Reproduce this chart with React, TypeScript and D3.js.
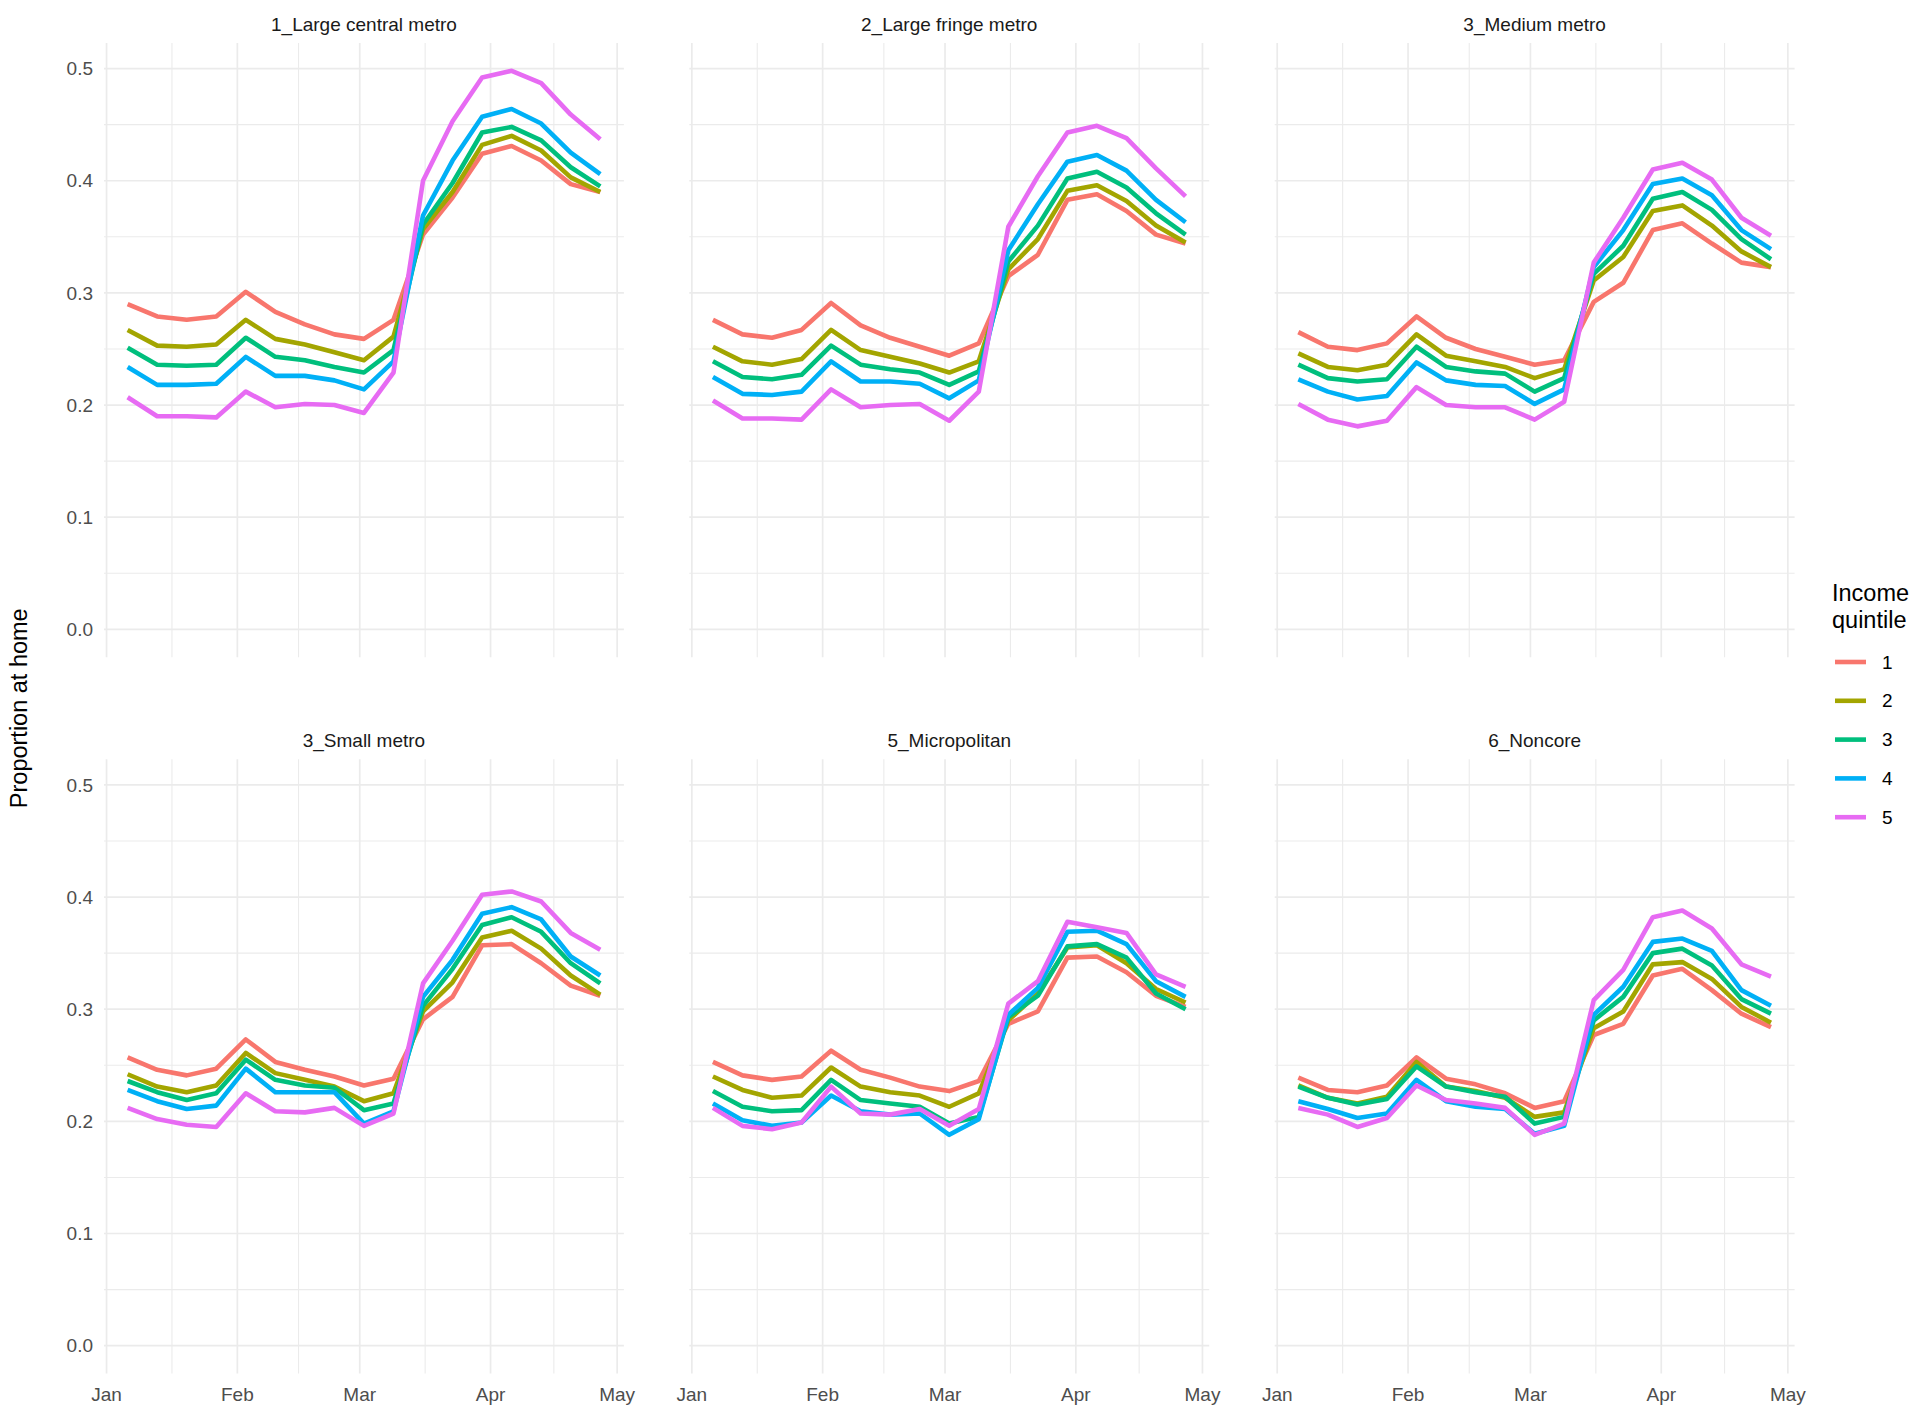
import React from "react";
import * as d3 from "d3";

// ---- data ----
const weeks = [
  "2020-01-06", "2020-01-13", "2020-01-20", "2020-01-27",
  "2020-02-03", "2020-02-10", "2020-02-17", "2020-02-24",
  "2020-03-02", "2020-03-09", "2020-03-16", "2020-03-23",
  "2020-03-30", "2020-04-06", "2020-04-13", "2020-04-20", "2020-04-27",
];

const quintiles = ["1", "2", "3", "4", "5"];
const quintileColors = ["#F8766D", "#A3A500", "#00BF7D", "#00B0F6", "#E76BF3"];

const panelTitles = [
  "1_Large central metro",
  "2_Large fringe metro",
  "3_Medium metro",
  "3_Small metro",
  "5_Micropolitan",
  "6_Noncore",
];

const largeCentralMetro = [
  [0.290, 0.279, 0.276, 0.279, 0.301, 0.283, 0.272, 0.263, 0.259, 0.276, 0.352, 0.385, 0.424, 0.431, 0.418, 0.397, 0.390],
  [0.267, 0.253, 0.252, 0.254, 0.276, 0.259, 0.254, 0.247, 0.240, 0.261, 0.357, 0.390, 0.432, 0.440, 0.427, 0.403, 0.390],
  [0.251, 0.236, 0.235, 0.236, 0.260, 0.243, 0.240, 0.234, 0.229, 0.249, 0.361, 0.398, 0.443, 0.448, 0.436, 0.412, 0.395],
  [0.234, 0.218, 0.218, 0.219, 0.243, 0.226, 0.226, 0.222, 0.214, 0.239, 0.369, 0.418, 0.457, 0.464, 0.451, 0.425, 0.406],
  [0.207, 0.190, 0.190, 0.189, 0.212, 0.198, 0.201, 0.200, 0.193, 0.229, 0.400, 0.453, 0.492, 0.498, 0.487, 0.459, 0.437],
];

const largeFringeMetro = [
  [0.276, 0.263, 0.260, 0.267, 0.291, 0.271, 0.260, 0.252, 0.244, 0.255, 0.315, 0.334, 0.383, 0.388, 0.373, 0.352, 0.344],
  [0.252, 0.239, 0.236, 0.241, 0.267, 0.249, 0.243, 0.237, 0.229, 0.239, 0.321, 0.348, 0.391, 0.396, 0.382, 0.360, 0.345],
  [0.239, 0.225, 0.223, 0.227, 0.253, 0.236, 0.232, 0.229, 0.218, 0.230, 0.328, 0.360, 0.402, 0.408, 0.394, 0.371, 0.352],
  [0.225, 0.210, 0.209, 0.212, 0.239, 0.221, 0.221, 0.219, 0.206, 0.222, 0.338, 0.379, 0.417, 0.423, 0.409, 0.383, 0.363],
  [0.204, 0.188, 0.188, 0.187, 0.214, 0.198, 0.200, 0.201, 0.186, 0.212, 0.359, 0.404, 0.443, 0.449, 0.438, 0.411, 0.386],
];

const mediumMetro = [
  [0.265, 0.252, 0.249, 0.255, 0.279, 0.260, 0.250, 0.243, 0.236, 0.240, 0.292, 0.309, 0.356, 0.362, 0.344, 0.327, 0.323],
  [0.246, 0.234, 0.231, 0.236, 0.263, 0.244, 0.239, 0.234, 0.224, 0.232, 0.311, 0.332, 0.373, 0.378, 0.360, 0.337, 0.323],
  [0.236, 0.224, 0.221, 0.223, 0.252, 0.234, 0.230, 0.228, 0.212, 0.224, 0.317, 0.342, 0.384, 0.390, 0.374, 0.348, 0.330],
  [0.223, 0.212, 0.205, 0.208, 0.238, 0.222, 0.218, 0.217, 0.201, 0.214, 0.323, 0.356, 0.397, 0.402, 0.387, 0.356, 0.339],
  [0.201, 0.187, 0.181, 0.186, 0.216, 0.200, 0.198, 0.198, 0.187, 0.203, 0.327, 0.367, 0.410, 0.416, 0.401, 0.367, 0.351],
];

const smallMetro = [
  [0.257, 0.246, 0.241, 0.247, 0.273, 0.253, 0.246, 0.240, 0.232, 0.238, 0.291, 0.311, 0.357, 0.358, 0.341, 0.321, 0.312],
  [0.242, 0.231, 0.226, 0.232, 0.261, 0.243, 0.237, 0.231, 0.218, 0.225, 0.298, 0.324, 0.364, 0.370, 0.354, 0.330, 0.313],
  [0.236, 0.226, 0.219, 0.225, 0.255, 0.237, 0.232, 0.230, 0.210, 0.216, 0.303, 0.336, 0.375, 0.382, 0.369, 0.341, 0.323],
  [0.228, 0.218, 0.211, 0.214, 0.247, 0.226, 0.226, 0.226, 0.198, 0.209, 0.311, 0.344, 0.385, 0.391, 0.380, 0.347, 0.330],
  [0.212, 0.202, 0.197, 0.195, 0.225, 0.209, 0.208, 0.212, 0.196, 0.207, 0.323, 0.361, 0.402, 0.405, 0.396, 0.368, 0.353],
];

const micropolitan = [
  [0.253, 0.241, 0.237, 0.240, 0.263, 0.246, 0.239, 0.231, 0.227, 0.236, 0.287, 0.298, 0.346, 0.347, 0.333, 0.312, 0.302],
  [0.240, 0.228, 0.221, 0.223, 0.248, 0.231, 0.226, 0.223, 0.213, 0.225, 0.290, 0.314, 0.355, 0.357, 0.341, 0.318, 0.306],
  [0.227, 0.213, 0.209, 0.210, 0.237, 0.219, 0.216, 0.213, 0.198, 0.204, 0.293, 0.312, 0.356, 0.358, 0.346, 0.314, 0.300],
  [0.216, 0.201, 0.196, 0.199, 0.223, 0.209, 0.206, 0.207, 0.188, 0.202, 0.295, 0.319, 0.369, 0.370, 0.358, 0.325, 0.311],
  [0.212, 0.196, 0.193, 0.199, 0.231, 0.207, 0.206, 0.211, 0.196, 0.211, 0.305, 0.325, 0.378, 0.373, 0.368, 0.331, 0.320],
];

const noncore = [
  [0.239, 0.228, 0.226, 0.232, 0.257, 0.238, 0.233, 0.225, 0.212, 0.218, 0.277, 0.287, 0.330, 0.336, 0.317, 0.296, 0.284],
  [0.232, 0.221, 0.216, 0.222, 0.253, 0.231, 0.227, 0.221, 0.204, 0.208, 0.283, 0.298, 0.340, 0.342, 0.327, 0.302, 0.288],
  [0.231, 0.221, 0.215, 0.220, 0.249, 0.231, 0.226, 0.222, 0.198, 0.204, 0.290, 0.311, 0.350, 0.354, 0.339, 0.309, 0.296],
  [0.218, 0.211, 0.203, 0.207, 0.237, 0.218, 0.213, 0.211, 0.189, 0.196, 0.295, 0.320, 0.360, 0.363, 0.352, 0.317, 0.303],
  [0.212, 0.206, 0.195, 0.203, 0.232, 0.219, 0.216, 0.212, 0.188, 0.198, 0.308, 0.335, 0.382, 0.388, 0.372, 0.340, 0.329],
];

const yTicks = [0, 0.1, 0.2, 0.3, 0.4, 0.5];
const monthTicks = ["2020-01-01", "2020-02-01", "2020-03-01", "2020-04-01", "2020-05-01"];
const monthLabels = ["Jan", "Feb", "Mar", "Apr", "May"];

// ---- layout ----
const FONT = "'Liberation Sans', Arial, Helvetica, sans-serif";
const colLeft = [104, 689.3, 1274.7];
const panelW = 519.9;
const rowTop = [42.9, 759.2];
const panelH = 614.4;
const GRID = "#EBEBEB";
const LINE_W = 4.6;

export default function App() {
  const parse = d3.utcParse("%Y-%m-%d");
  const dates = weeks.map((s) => parse(s) as Date);
  const panels = [largeCentralMetro, largeFringeMetro, mediumMetro, smallMetro, micropolitan, noncore];

  const [d0, d1] = d3.extent(dates) as [Date, Date];
  const span = +d1 - +d0;
  const xDomain = [new Date(+d0 - span * 0.05), new Date(+d1 + span * 0.05)];
  const yMax = d3.max(panels.flatMap((p) => p.flat())) as number;
  const yMin = 0;
  const yExp = (yMax - yMin) * 0.05;
  const yDomain = [yMin - yExp, yMax + yExp];

  const majorX = monthTicks.map((s) => parse(s) as Date);
  const minorX = majorX.slice(0, -1).map((d, i) => new Date((+d + +majorX[i + 1]) / 2));
  const minorY = yTicks.slice(0, -1).map((v, i) => (v + yTicks[i + 1]) / 2);

  return (
    <svg
      width={1920}
      height={1410}
      style={{ position: "absolute", left: 0, top: 0, background: "#fff" }}
      fontFamily={FONT}
    >
      <rect x={0} y={0} width={1920} height={1410} fill="#fff" />
      {panels.map((series, pi) => {
        const col = pi % 3;
        const row = Math.floor(pi / 3);
        const left = colLeft[col];
        const top = rowTop[row];
        const x = d3.scaleUtc().domain(xDomain).range([left, left + panelW]);
        const y = d3.scaleLinear().domain(yDomain).range([top + panelH, top]);
        const line = d3
          .line<number>()
          .x((_, i) => x(dates[i]))
          .y((v) => y(v));
        return (
          <g key={pi}>
            {minorY.map((v, i) => (
              <line key={"my" + i} x1={left} x2={left + panelW} y1={y(v)} y2={y(v)} stroke={GRID} strokeWidth={1.1} />
            ))}
            {minorX.map((d, i) => (
              <line key={"mx" + i} x1={x(d)} x2={x(d)} y1={top} y2={top + panelH} stroke={GRID} strokeWidth={1.1} />
            ))}
            {yTicks.map((v, i) => (
              <line key={"gy" + i} x1={left} x2={left + panelW} y1={y(v)} y2={y(v)} stroke={GRID} strokeWidth={1.7} />
            ))}
            {majorX.map((d, i) => (
              <line key={"gx" + i} x1={x(d)} x2={x(d)} y1={top} y2={top + panelH} stroke={GRID} strokeWidth={1.7} />
            ))}
            <text
              x={left + panelW / 2}
              y={top - 18.5}
              dy="0.35em"
              textAnchor="middle"
              fontSize={19}
              fill="#1A1A1A"
            >
              {panelTitles[pi]}
            </text>
            {col === 0 &&
              yTicks.map((v, i) => (
                <text key={"yl" + i} x={left - 11} y={y(v)} dy="0.35em" textAnchor="end" fontSize={19} fill="#4D4D4D">
                  {d3.format(".1f")(v)}
                </text>
              ))}
            {row === 1 &&
              majorX.map((d, i) => (
                <text key={"xl" + i} x={x(d)} y={top + panelH + 20.5} dy="0.35em" textAnchor="middle" fontSize={19} fill="#4D4D4D">
                  {monthLabels[i]}
                </text>
              ))}
            {series.map((vals, qi) => (
              <path
                key={"s" + qi}
                d={line(vals) as string}
                fill="none"
                stroke={quintileColors[qi]}
                strokeWidth={LINE_W}
                strokeLinejoin="round"
              />
            ))}
          </g>
        );
      })}
      <text
        transform={`translate(27,${(rowTop[0] + rowTop[1] + panelH) / 2}) rotate(-90)`}
        textAnchor="middle"
        fontSize={23.5}
        fill="#000"
      >
        Proportion at home
      </text>
      <g>
        <text x={1832} y={601} fontSize={23.5} fill="#000">Income</text>
        <text x={1832} y={628} fontSize={23.5} fill="#000">quintile</text>
        {quintiles.map((q, i) => {
          const ly = 662 + i * 38.8;
          return (
            <g key={q}>
              <line x1={1835} x2={1866} y1={ly} y2={ly} stroke={quintileColors[i]} strokeWidth={LINE_W} />
              <text x={1882} y={ly} dy="0.35em" fontSize={19} fill="#000">{q}</text>
            </g>
          );
        })}
      </g>
    </svg>
  );
}
